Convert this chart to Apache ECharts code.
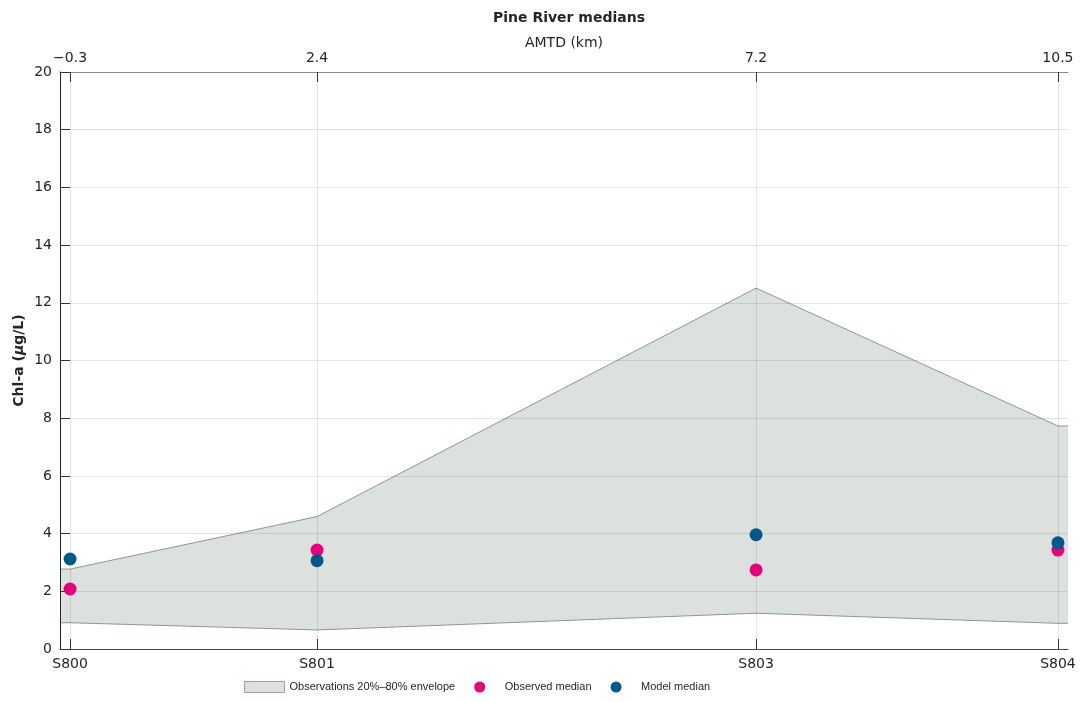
<!DOCTYPE html>
<html>
<head>
<meta charset="utf-8">
<script src="https://cdn.jsdelivr.net/npm/echarts@6/dist/echarts.min.js"></script>
<style>
html,body{margin:0;padding:0;background:#fff;}
#chart{width:1082px;height:702px;}
</style>
</head>
<body>
<div id="chart"></div>
<script>
// ---- data ----
const kmPositions = [-0.3, 2.4, 7.2, 10.5];
const stationLabels = ['S800', 'S801', 'S803', 'S804'];
const kmLabels = ['\u22120.3', '2.4', '7.2', '10.5'];
const envLow = [0.91, 0.66, 1.24, 0.89];
const envHigh = [2.77, 4.59, 12.51, 7.73];
const observedMedian = [2.08, 3.43, 2.74, 3.43];
const modelMedian = [3.12, 3.06, 3.96, 3.68];
const yTicks = [0, 2, 4, 6, 8, 10, 12, 14, 16, 18, 20];

// axis extent
const X_MIN = -0.41, X_MAX = 10.61;

const FONT = 'DejaVu Sans';
const TXT = '#262626';
const ENV_FILL = '#dce1dd';
const ENV_EDGE = '#8a9a92';
const OBS_COLOR = '#e6007e';
const MOD_COLOR = '#00578a';

function idxOf(v) {
  let best = 0;
  for (let i = 1; i < kmPositions.length; i++) {
    if (Math.abs(kmPositions[i] - v) < Math.abs(kmPositions[best] - v)) best = i;
  }
  return best;
}

const chart = echarts.init(document.getElementById('chart'), null, {renderer: 'canvas'});

const envRows = kmPositions.map((x, i) => [x, envLow[i], envHigh[i]]);

const option = {
  backgroundColor: '#fff',
  animation: false,
  title: {
    text: 'Pine River medians',
    left: 564, textAlign: 'center', top: 6,
    textStyle: {fontFamily: FONT, fontSize: 14, fontWeight: 'bold', color: TXT}
  },
  grid: {left: 60, right: 14, top: 72, bottom: 53, containLabel: false},
  legend: {
    left: 239, top: 676,
    itemWidth: 40, itemHeight: 11, itemGap: 19,
    textStyle: {fontFamily: 'Liberation Sans', fontSize: 11, color: TXT},
    data: [
      {name: 'Observations 20%\u201380% envelope', icon: 'rect',
        itemStyle: {color: ENV_FILL, borderColor: '#9aa39e', borderWidth: 1}},
      {name: 'Observed median', icon: 'circle', itemStyle: {color: OBS_COLOR}},
      {name: 'Model median', icon: 'circle', itemStyle: {color: MOD_COLOR}}
    ]
  },
  xAxis: [
    {
      type: 'value', position: 'bottom', min: X_MIN, max: X_MAX,
      axisLine: {show: true, onZero: false, lineStyle: {color: '#4d4d4d', width: 1}},
      axisTick: {show: true, inside: true, length: 10, customValues: kmPositions,
        lineStyle: {color: '#333'}},
      axisLabel: {show: true, customValues: kmPositions, margin: 8,
        fontFamily: FONT, fontSize: 14, color: TXT,
        formatter: v => stationLabels[idxOf(v)]},
      splitLine: {show: true, lineStyle: {color: 'rgba(0,0,0,0.1)', width: 1}}
    },
    {
      type: 'value', position: 'top', min: X_MIN, max: X_MAX,
      name: 'AMTD (km)', nameLocation: 'middle', nameGap: 22, nameMoveOverlap: false,
      nameTextStyle: {fontFamily: FONT, fontSize: 14, color: TXT},
      axisLine: {show: true, onZero: false, lineStyle: {color: '#8c8c8c', width: 1}},
      axisTick: {show: true, inside: true, length: 10, customValues: kmPositions,
        lineStyle: {color: '#333'}},
      axisLabel: {show: true, customValues: kmPositions, margin: 7,
        fontFamily: FONT, fontSize: 14, color: TXT,
        formatter: v => kmLabels[idxOf(v)]},
      splitLine: {show: false}
    }
  ],
  yAxis: {
    type: 'value', min: 0, max: 20, interval: 2,
    name: '{b|Chl-a (}{i|\u03bc}{b|g/L)}', nameLocation: 'middle', nameGap: 34, nameRotate: 90,
    nameMoveOverlap: false,
    nameTextStyle: {
      rich: {
        b: {fontFamily: FONT, fontSize: 14, fontWeight: 'bold', color: TXT},
        i: {fontFamily: FONT, fontSize: 14, fontWeight: 'bold', fontStyle: 'italic', color: TXT}
      }
    },
    axisLine: {show: true, onZero: false, lineStyle: {color: '#262626', width: 1}},
    axisTick: {show: true, inside: true, length: 10, lineStyle: {color: '#333'}},
    axisLabel: {margin: 8, fontFamily: FONT, fontSize: 14, color: TXT,
      formatter: v => String(yTicks[yTicks.indexOf(v)])},
    splitLine: {show: true, lineStyle: {color: 'rgba(0,0,0,0.1)', width: 1}}
  },
  series: [
    {
      name: 'Observations 20%\u201380% envelope',
      type: 'custom',
      z: -1,
      silent: true,
      itemStyle: {color: ENV_FILL},
      data: envRows,
      encode: {x: 0, y: [1, 2]},
      renderItem: function (params, api) {
        if (params.dataIndex !== 0) return null;
        const n = envRows.length;
        const up = [], lo = [];
        up.push(api.coord([X_MIN, envRows[0][2]]));
        lo.push(api.coord([X_MIN, envRows[0][1]]));
        for (let i = 0; i < n; i++) {
          up.push(api.coord([envRows[i][0], envRows[i][2]]));
          lo.push(api.coord([envRows[i][0], envRows[i][1]]));
        }
        up.push(api.coord([X_MAX, envRows[n - 1][2]]));
        lo.push(api.coord([X_MAX, envRows[n - 1][1]]));
        const poly = up.concat(lo.slice().reverse());
        return {
          type: 'group',
          children: [
            {type: 'polygon', shape: {points: poly}, style: {fill: ENV_FILL, stroke: null}},
            {type: 'polyline', shape: {points: up}, style: {fill: null, stroke: ENV_EDGE, lineWidth: 1}},
            {type: 'polyline', shape: {points: lo}, style: {fill: null, stroke: ENV_EDGE, lineWidth: 1}}
          ]
        };
      }
    },
    {
      name: 'Observed median', type: 'scatter', z: 3,
      symbol: 'circle', symbolSize: 13,
      itemStyle: {color: OBS_COLOR, opacity: 1},
      data: kmPositions.map((x, i) => [x, observedMedian[i]])
    },
    {
      name: 'Model median', type: 'scatter', z: 4,
      symbol: 'circle', symbolSize: 13,
      itemStyle: {color: MOD_COLOR, opacity: 1},
      data: kmPositions.map((x, i) => [x, modelMedian[i]])
    }
  ]
};
chart.setOption(option);
</script>
</body>
</html>
